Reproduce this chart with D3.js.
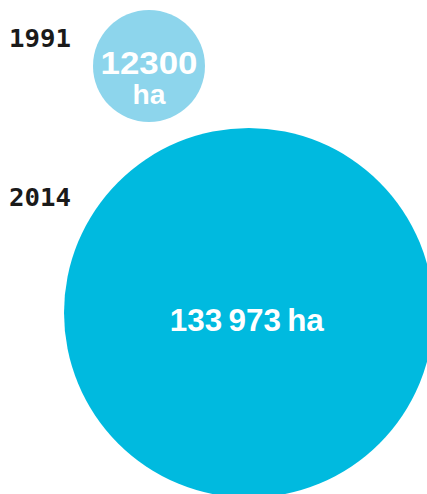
<!DOCTYPE html>
<html>
<head>
<meta charset="utf-8">
<script src="https://cdn.jsdelivr.net/npm/d3@7"></script>
<style>
  html, body { margin: 0; padding: 0; background: #fff; }
  svg { display: block; }
</style>
</head>
<body>
<svg id="chart" width="427" height="494"></svg>
<script>
const years = ["1991", "2014"];
const values = [12300, 133973];
const valueLabels = [["12300", "ha"], ["133\u2009973\u2009ha"]];
const colors = ["#8dd5ec", "#00badf"];

const svg = d3.select("#chart");

const r = d3.scaleSqrt().domain([0, d3.max(values)]).range([0, 184.8]);

// layout: left edge and top edge of each circle
const leftEdge = [93, 64];
const topEdge = [10, 128];

const data = years.map((y, i) => ({
  year: y, value: values[i], lines: valueLabels[i], color: colors[i],
  r: r(values[i]),
  cx: leftEdge[i] + r(values[i]),
  cy: topEdge[i] + r(values[i])
}));

svg.selectAll("circle.bubble")
  .data(data)
  .join("circle")
  .attr("class", "bubble")
  .attr("cx", d => d.cx)
  .attr("cy", d => d.cy)
  .attr("r", d => d.r)
  .attr("fill", d => d.color);

const YEARFONT = "'DejaVu Sans Mono', monospace";
const FONT = "'Liberation Sans', Arial, sans-serif";

// year labels
const yearBase = [47, 206];
svg.selectAll("text.year")
  .data(data)
  .join("text")
  .attr("class", "year")
  .attr("x", 9)
  .attr("y", (d, i) => yearBase[i])
  .attr("font-family", YEARFONT)
  .attr("font-weight", "bold")
  .attr("font-size", 25)
  .attr("textLength", 62)
  .attr("lengthAdjust", "spacingAndGlyphs")
  .attr("fill", "#1a1a1a")
  .text(d => d.year);

// small circle label
const small = data[0];
svg.append("text")
  .attr("x", small.cx)
  .attr("y", small.cy + 8)
  .attr("text-anchor", "middle")
  .attr("font-family", FONT)
  .attr("font-weight", "bold")
  .attr("font-size", 32)
  .attr("textLength", 97)
  .attr("lengthAdjust", "spacingAndGlyphs")
  .attr("fill", "#fff")
  .text(small.lines[0]);
svg.append("text")
  .attr("x", small.cx)
  .attr("y", small.cy + 38)
  .attr("text-anchor", "middle")
  .attr("font-family", FONT)
  .attr("font-weight", "bold")
  .attr("font-size", 27)
  .attr("textLength", 33)
  .attr("lengthAdjust", "spacingAndGlyphs")
  .attr("fill", "#fff")
  .text(small.lines[1]);

// big circle label
const big = data[1];
svg.append("text")
  .attr("x", big.cx - 2)
  .attr("y", big.cy + 18)
  .attr("text-anchor", "middle")
  .attr("font-family", FONT)
  .attr("font-weight", "bold")
  .attr("font-size", 31)
  .attr("textLength", 154)
  .attr("lengthAdjust", "spacingAndGlyphs")
  .attr("fill", "#fff")
  .text(big.lines[0]);
</script>
</body>
</html>
